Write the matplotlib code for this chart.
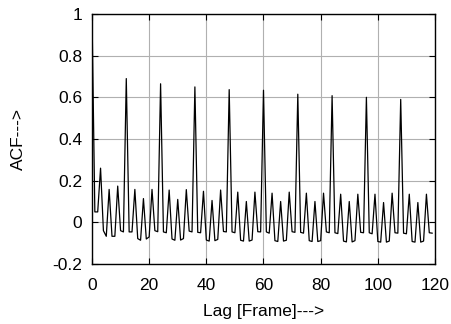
import numpy as np
import matplotlib
matplotlib.use("Agg")
import matplotlib.pyplot as plt

plt.rcParams['font.family'] = ['Liberation Sans', 'DejaVu Sans']

# autocorrelation values, one row per 12-frame cycle (lags 0..119)
acf_rows = [
    [1.000, 0.050, 0.050, 0.260, -0.040, -0.067, 0.158, -0.067, -0.067, 0.174, -0.040, -0.046],
    [0.690, -0.046, -0.046, 0.158, -0.078, -0.086, 0.114, -0.080, -0.070, 0.158, -0.040, -0.045],
    [0.665, -0.046, -0.050, 0.155, -0.080, -0.086, 0.110, -0.085, -0.078, 0.157, -0.042, -0.046],
    [0.650, -0.048, -0.050, 0.149, -0.085, -0.090, 0.105, -0.088, -0.082, 0.155, -0.044, -0.046],
    [0.637, -0.046, -0.050, 0.145, -0.086, -0.090, 0.100, -0.090, -0.085, 0.145, -0.045, -0.046],
    [0.634, -0.046, -0.052, 0.140, -0.088, -0.092, 0.100, -0.090, -0.086, 0.145, -0.045, -0.048],
    [0.615, -0.048, -0.052, 0.140, -0.088, -0.092, 0.100, -0.092, -0.088, 0.140, -0.046, -0.050],
    [0.608, -0.050, -0.054, 0.135, -0.090, -0.094, 0.100, -0.094, -0.088, 0.135, -0.048, -0.050],
    [0.600, -0.050, -0.055, 0.135, -0.092, -0.095, 0.095, -0.095, -0.090, 0.140, -0.050, -0.052],
    [0.590, -0.052, -0.055, 0.135, -0.092, -0.095, 0.095, -0.095, -0.090, 0.135, -0.050, -0.052],
]
acf = [v for row in acf_rows for v in row]
lags = list(range(len(acf)))

xticks = [0, 20, 40, 60, 80, 100, 120]
yticks = [-0.2, 0, 0.2, 0.4, 0.6, 0.8, 1]
ytick_labels = ['-0.2', '0', '0.2', '0.4', '0.6', '0.8', '1']

fig = plt.figure(figsize=(4.52, 3.24), dpi=100)
ax = fig.add_axes([0.2035, 0.1852, 0.7589, 0.7716])

ax.plot(lags, acf, color='black', linewidth=0.9)

ax.set_xlim(0, 120)
ax.set_ylim(-0.2, 1)
ax.set_xticks(xticks)
ax.set_yticks(yticks)
ax.set_yticklabels(ytick_labels)
ax.grid(True, color='#b0b0b0', linewidth=0.8)
ax.set_axisbelow(True)
ax.tick_params(direction='in', top=True, right=True, length=4, width=0.8,
               labelsize=12.5)
ax.tick_params(axis='x', pad=10)
ax.tick_params(axis='y', pad=7)
for s in ax.spines.values():
    s.set_linewidth(1)

ax.set_xlabel('Lag [Frame]--->', fontsize=12.5, labelpad=8)
ax.set_ylabel('ACF--->', fontsize=12.5, labelpad=19)

fig.savefig('out.png', dpi=100)
